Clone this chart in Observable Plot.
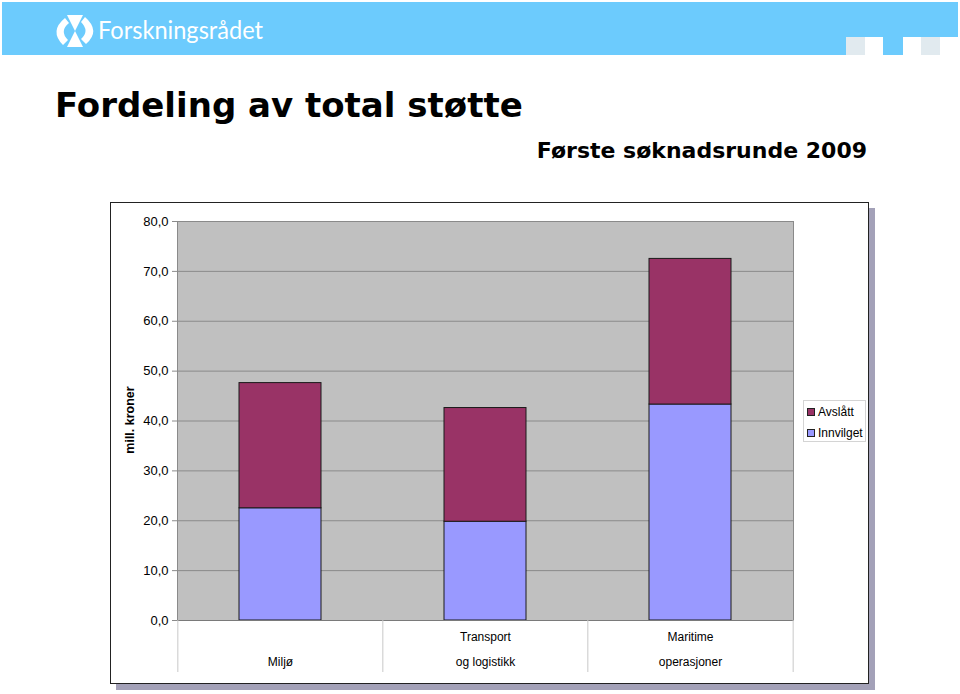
<!DOCTYPE html>
<html>
<head>
<meta charset="utf-8">
<script src="https://cdn.jsdelivr.net/npm/d3@7"></script>
<script src="https://cdn.jsdelivr.net/npm/@observablehq/plot@0.6"></script>
<style>
  html, body { margin: 0; padding: 0; background: #fff; }
  #page { position: relative; width: 960px; height: 694px; overflow: hidden; font-family: "Liberation Sans", Arial, sans-serif; }
  #top { position: absolute; left: 0; top: 0; }
  #shadow { position: absolute; left: 116px; top: 208px; width: 759px; height: 482px; background: #a3a1b8; }
  #frame { position: absolute; left: 110px; top: 202px; width: 759px; height: 482px; background: #fff; border: 1px solid #222; box-sizing: border-box; }
  #chart { position: absolute; left: 110px; top: 202px; }
  #ylabel { position: absolute; left: 130px; top: 420px; transform: translate(-50%, -50%) rotate(-90deg); font-weight: bold; font-size: 12.5px; white-space: nowrap; color: #000; }
  #legend { position: absolute; left: 803px; top: 400px; width: 63px; height: 42px; border: 1px solid #d4d4d4; box-sizing: border-box; background: #fff; font-size: 12px; color: #000; }
  .item { position: absolute; left: 3px; height: 14px; line-height: 14px; white-space: nowrap; }
  .sw { display: inline-block; width: 8px; height: 8px; border: 1px solid #222; box-sizing: border-box; margin-right: 3px; vertical-align: -0px; }
</style>
</head>
<body>
<div id="page">
  <svg id="top" width="960" height="200" xmlns="http://www.w3.org/2000/svg">
    <rect x="2" y="2" width="956" height="35" fill="#6ccbfd"/>
    <rect x="2" y="36" width="844" height="19" fill="#6ccbfd"/>
    <rect x="846" y="37" width="19" height="18" fill="#e1eaef"/>
    <rect x="883" y="36" width="20" height="19" fill="#6ccbfd"/>
    <rect x="921" y="37" width="19" height="18" fill="#e1eaef"/>
    <g fill="#fff">
      <path d="M67 15 L83 15 L75 31 Z"/>
      <path d="M67 47 L83 47 L75 31 Z"/>
      <path d="M65 18 Q49 31 63 45 L68 40 Q59 31 69 23 Z"/>
      <path d="M85 17 Q101 31 86 44 L81 39 Q90 31 81 22 Z"/>
    </g>
    <text x="98" y="39" fill="#fff" font-family="Lato, 'Open Sans', sans-serif" font-size="25" textLength="165" lengthAdjust="spacingAndGlyphs">Forskningsrådet</text>
    <text x="55" y="117" fill="#000" font-family="'DejaVu Sans', Verdana, sans-serif" font-weight="bold" font-size="34">Fordeling av total støtte</text>
    <text x="867" y="158" text-anchor="end" fill="#000" font-family="'DejaVu Sans', Verdana, sans-serif" font-weight="bold" font-size="22">Første søknadsrunde 2009</text>
  </svg>
  <div id="shadow"></div>
  <div id="frame"></div>
  <div id="chart"></div>
  <div id="ylabel">mill. kroner</div>
  <div id="legend">
    <div class="item" style="top:4px"><span class="sw" style="background:#993366"></span>Avslått</div>
    <div class="item" style="top:25px"><span class="sw" style="background:#9999ff"></span>Innvilget</div>
  </div>
</div>
<script>
const categories = ["Miljø", "Transport og logistikk", "Maritime operasjoner"];
const labelTop = ["", "Transport", "Maritime"];
const labelBottom = ["Miljø", "og logistikk", "operasjoner"];
const series = ["Avslått", "Innvilget"];
const seriesColors = ["#993366", "#9999ff"];
const innvilget = [22.5, 19.8, 43.3];
const avslatt = [25.1, 22.8, 29.2];
const yTicks = [0, 10, 20, 30, 40, 50, 60, 70, 80];

const data = categories.flatMap((c, i) => [
  {category: c, status: "Innvilget", value: innvilget[i]},
  {category: c, status: "Avslått", value: avslatt[i]}
]);

const W = 759, H = 482, ML = 67, MR = 76, MT = 19, MB = 64;
const step = (W - ML - MR) / categories.length;

const chart = Plot.plot({
  width: W, height: H,
  marginLeft: ML, marginRight: MR, marginTop: MT, marginBottom: MB,
  style: {fontFamily: "'Liberation Sans', Arial, sans-serif", fontSize: "12px", background: "transparent", color: "#000", overflow: "visible"},
  x: {domain: categories, paddingInner: 0.6, paddingOuter: 0.3, axis: null},
  y: {domain: [0, 80], axis: null},
  color: {domain: series, range: seriesColors},
  marks: [
    Plot.frame({fill: "#c0c0c0"}),
    Plot.gridY(yTicks, {stroke: "#8a8a8a", strokeOpacity: 1}),
    Plot.axisY(yTicks, {tickSize: 5, tickPadding: 4, stroke: "#8a8a8a", fill: "#000", fontSize: 13, label: null,
      tickFormat: d => d.toFixed(1).replace(".", ",")}),
    Plot.barY(data, {x: "category", y: "value", fill: "status", stroke: "#1a1a1a", strokeWidth: 1}),
    Plot.frame({stroke: "#8a8a8a"}),
    Plot.ruleY([0], {stroke: "#7a7a7a"}),
    Plot.axisX(categories, {tickSize: 52, tickFormat: () => "", stroke: "#c8c8c8", dx: -step / 2, label: null}),
    Plot.axisX(categories.slice(-1), {tickSize: 52, tickFormat: () => "", stroke: "#c8c8c8", dx: step / 2, label: null}),
    Plot.text(categories, {x: d => d, text: (d, i) => labelTop[i], frameAnchor: "bottom", dy: 20, fontSize: 12, fill: "#000"}),
    Plot.text(categories, {x: d => d, text: (d, i) => labelBottom[i], frameAnchor: "bottom", dy: 45, fontSize: 12, fill: "#000"})
  ]
});
document.getElementById("chart").appendChild(chart);
</script>
</body>
</html>
